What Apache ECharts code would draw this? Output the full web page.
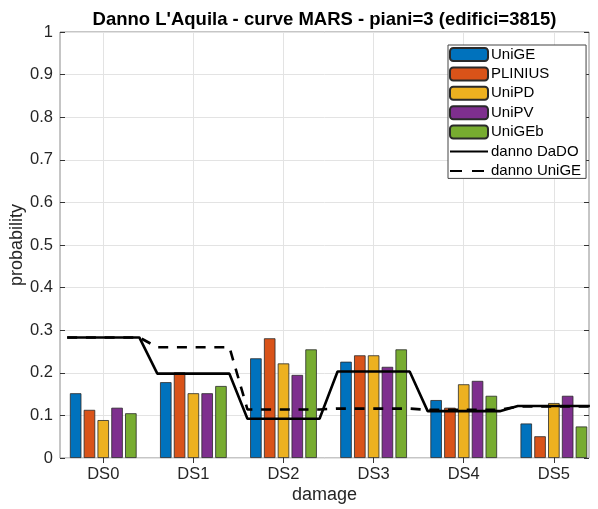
<!DOCTYPE html>
<html>
<head>
<meta charset="utf-8">
<script src="https://cdn.jsdelivr.net/npm/echarts@6/dist/echarts.min.js"></script>
<style>html,body{margin:0;padding:0;background:#fff}#c{width:598px;height:509px}</style>
</head>
<body>
<div id="c"></div>
<script>
const categories = ['DS0', 'DS1', 'DS2', 'DS3', 'DS4', 'DS5'];
const barNames = ['UniGE', 'PLINIUS', 'UniPD', 'UniPV', 'UniGEb'];
const UniGE  = [0.152, 0.178, 0.234, 0.226, 0.136, 0.081];
const PLINIUS = [0.113, 0.201, 0.281, 0.241, 0.118, 0.051];
const UniPD  = [0.089, 0.152, 0.222, 0.241, 0.173, 0.129];
const UniPV  = [0.118, 0.152, 0.195, 0.214, 0.181, 0.146];
const UniGEb = [0.105, 0.169, 0.255, 0.255, 0.146, 0.074];
const dannoDaDO  = [0.283, 0.198, 0.092, 0.203, 0.110, 0.122];
const dannoUniGE = [0.283, 0.260, 0.114, 0.116, 0.113, 0.121];
const yTicks = [0, 0.1, 0.2, 0.3, 0.4, 0.5, 0.6, 0.7, 0.8, 0.9, 1];

const barValues = [UniGE, PLINIUS, UniPD, UniPV, UniGEb];
const colors = ['#0072BD', '#D95319', '#EDB120', '#7E2F8E', '#77AC30'];
const catPos = categories.map((c, i) => i + 1);
const halfStep = 0.4;
function stepLine(vals) {
  const out = [];
  vals.forEach((v, i) => { out.push([catPos[i] - halfStep, v]); out.push([catPos[i] + halfStep, v]); });
  return out;
}
const FONT = '"Liberation Sans", Arial, Helvetica, sans-serif';

const series = barNames.map((n, s) => ({
  name: n, type: 'bar', xAxisIndex: 0, yAxisIndex: 0,
  data: barValues[s].map((v, i) => [catPos[i], v]),
  barWidth: 11.5, barGap: '20%',
  itemStyle: { color: colors[s], borderColor: '#2a2a2a', borderWidth: 0.8 },
  emphasis: { disabled: true }, z: 2
}));
series.push({
  name: 'danno DaDO', type: 'line', data: stepLine(dannoDaDO), symbol: 'none',
  lineStyle: { color: '#000', width: 2.6 }, itemStyle: { color: '#000' }, z: 4
});
series.push({
  name: 'danno UniGE', type: 'line', data: stepLine(dannoUniGE), symbol: 'none',
  lineStyle: { color: '#000', width: 2.6, type: [10, 8.7] }, itemStyle: { color: '#000' }, z: 3
});

const xCommon = {
  type: 'value', min: 0.52, max: 6.39,
  axisLine: { show: false },
  axisTick: { show: true, inside: true, length: 5, customValues: catPos, lineStyle: { color: '#333' } },
  splitLine: { show: false }
};
const hiddenSym = { opacity: 0 };
const option = {
  animation: false,
  backgroundColor: '#fff',
  title: {
    text: "Danno L'Aquila - curve MARS - piani=3 (edifici=3815)",
    left: 324.5, textAlign: 'center', top: 10, padding: 0,
    textStyle: { fontFamily: FONT, fontSize: 18.5, fontWeight: 'bold', color: '#000' }
  },
  grid: { left: 60, right: 9, top: 32, bottom: 51, outerBoundsMode: 'none', containLabel: false,
    show: true, borderColor: '#8c8c8c', borderWidth: 1, backgroundColor: 'transparent' },
  legend: {
    orient: 'vertical', left: 448, top: 45,
    padding: [2, 5, 0, 1], itemGap: 4.4, itemWidth: 38, itemHeight: 13,
    backgroundColor: '#fff', borderColor: '#444', borderWidth: 1,
    textStyle: { fontFamily: FONT, fontSize: 15, color: '#000', padding: [0, 0, 0, -2] },
    data: barNames.map(n => ({ name: n })).concat([
      { name: 'danno DaDO', itemStyle: hiddenSym },
      { name: 'danno UniGE', itemStyle: hiddenSym, lineStyle: { type: [12, 10] } }
    ])
  },
  xAxis: [
    Object.assign({}, xCommon, {
      position: 'bottom',
      name: 'damage', nameLocation: 'middle', nameGap: 28, nameMoveOverlap: false,
      nameTextStyle: { fontFamily: FONT, fontSize: 18, color: '#262626' },
      axisLabel: { show: true, customValues: catPos, margin: 8, fontFamily: FONT, fontSize: 16.5, color: '#262626',
        formatter: v => categories[Math.round(v) - 1] },
      splitLine: { show: true, lineStyle: { color: '#e3e3e3', width: 1 } }
    }),
    Object.assign({}, xCommon, { position: 'top', axisLabel: { show: false } })
  ],
  yAxis: [
    {
      type: 'value', min: 0, max: 1, interval: 0.1, position: 'left',
      name: 'probability', nameLocation: 'middle', nameGap: 34, nameMoveOverlap: false,
      nameTextStyle: { fontFamily: FONT, fontSize: 18, color: '#262626' },
      axisLine: { show: false },
      axisTick: { show: true, inside: true, length: 5, lineStyle: { color: '#333' } },
      axisLabel: { margin: 7, fontFamily: FONT, fontSize: 16.5, color: '#262626',
        formatter: v => { const t = yTicks.find(y => Math.abs(y - v) < 1e-6); return t === 0 || t === 1 ? String(t) : t.toFixed(1); } },
      splitLine: { show: true, lineStyle: { color: '#e3e3e3', width: 1 } }
    },
    {
      type: 'value', min: 0, max: 1, interval: 0.1, position: 'right',
      axisLine: { show: false },
      axisTick: { show: true, inside: true, length: 5, lineStyle: { color: '#333' } },
      axisLabel: { show: false }, splitLine: { show: false }
    }
  ],
  series: series
};
const chart = echarts.init(document.getElementById('c'), null, { renderer: 'canvas' });
chart.setOption(option);
</script>
</body>
</html>
